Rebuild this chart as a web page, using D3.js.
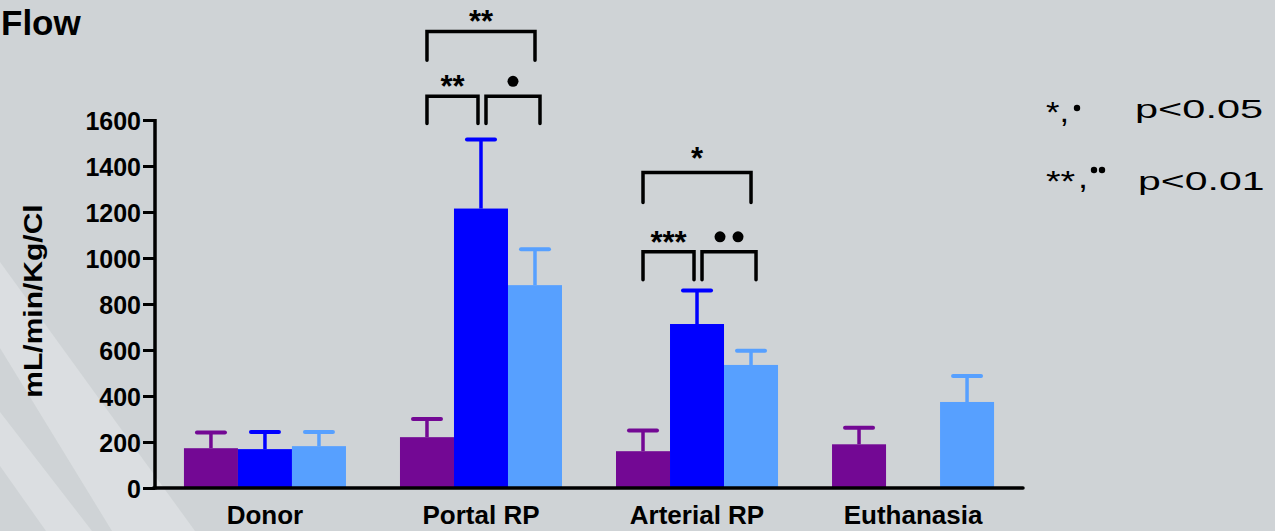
<!DOCTYPE html>
<html>
<head>
<meta charset="utf-8">
<script src="https://cdn.jsdelivr.net/npm/d3@7"></script>
<style>
  body { margin: 0; background: #cfd3d6; }
  svg { display: block; font-family: Arial, "Liberation Sans", sans-serif; }
</style>
</head>
<body>
<div id="chart"></div>
<script>
// chart values
var groups = ["Donor", "Portal RP", "Arterial RP", "Euthanasia"]
var seriesColors = ["#730894", "#0000ff", "#57a0ff"]
// mean per group, one array per series (null = no bar)
var seriesA = [173, 221, 160, 190]
var seriesB = [169, 1215, 713, null]
var seriesC = [182, 882, 535, 374]
// top of the error bar (mean + SEM)
var errA = [241, 300, 250, 262]
var errB = [244, 1515, 859, null]
var errC = [244, 1038, 597, 487]
var yTicks = [0, 200, 400, 600, 800, 1000, 1200, 1400, 1600]

// significance brackets: group, bar from/to, top and leg level (data units)
var brackets = [
    { group: "Portal RP", from: 0, to: 2, top: 1985, bottom: 1860, label: "**", dots: 0 },
    { group: "Portal RP", from: 0, to: 1, top: 1703, bottom: 1585, label: "**", dots: 0 },
    { group: "Portal RP", from: 1, to: 2, top: 1703, bottom: 1585, label: "", dots: 1 },
    { group: "Arterial RP", from: 0, to: 2, top: 1372, bottom: 1241, label: "*", dots: 0 },
    { group: "Arterial RP", from: 0, to: 1, top: 1027, bottom: 905, label: "***", dots: 0 },
    { group: "Arterial RP", from: 1, to: 2, top: 1027, bottom: 905, label: "", dots: 2 }
]

var svgWidth = 1275
var svgHeight = 531

var svg = d3.select("#chart")
    .append("svg")
    .attr("width", svgWidth)
    .attr("height", svgHeight)

svg.append("rect")
    .attr("width", svgWidth)
    .attr("height", svgHeight)
    .attr("fill", "#cfd3d6")

// light diagonal bands in the lower left corner
var bands = [
    [[0, 262], [195, 531], [112, 531], [0, 348]],
    [[0, 412], [92, 531], [46, 531], [0, 466]]
]
svg.append("g")
    .selectAll("path")
    .data(bands)
    .enter()
    .append("path")
    .attr("d", d => "M" + d.join("L") + "Z")
    .attr("fill", "#e3e6e7")
    .attr("opacity", 0.6)

var margin = { top: 120, bottom: 43, right: 252, left: 155 }
var chartWidth = svgWidth - margin.left - margin.right
var chartHeight = svgHeight - margin.top - margin.bottom

var chartGroup = svg.append("g")
    .attr("transform", `translate(${margin.left}, ${margin.top})`)

var xScale = d3.scaleBand()
    .domain(groups)
    .range([0, chartWidth])
    .paddingInner(0.25)
    .paddingOuter(0.134)

var xSub = d3.scaleBand()
    .domain([0, 1, 2])
    .range([0, xScale.bandwidth()])

var yScale = d3.scaleLinear()
    .domain([0, 1600])
    .range([chartHeight, 0])

var means = [seriesA, seriesB, seriesC]
var errs = [errA, errB, errC]
var barData = []
groups.forEach((g, i) => {
    means.forEach((s, k) => {
        if (s[i] != null) barData.push({ group: g, k: k, value: s[i], err: errs[k][i] })
    })
})

var barCenter = (g, k) => xScale(g) + xSub(k) + xSub.bandwidth() / 2

// error bars first, bars drawn on top
var errGroup = chartGroup.append("g")
errGroup.selectAll("line.stem")
    .data(barData)
    .enter()
    .append("line")
    .attr("x1", d => barCenter(d.group, d.k))
    .attr("x2", d => barCenter(d.group, d.k))
    .attr("y1", d => yScale(d.value))
    .attr("y2", d => yScale(d.err))
    .attr("stroke", d => seriesColors[d.k])
    .attr("stroke-width", 3.5)
errGroup.selectAll("line.cap")
    .data(barData)
    .enter()
    .append("line")
    .attr("x1", d => barCenter(d.group, d.k) - 14)
    .attr("x2", d => barCenter(d.group, d.k) + 14)
    .attr("y1", d => yScale(d.err))
    .attr("y2", d => yScale(d.err))
    .attr("stroke", d => seriesColors[d.k])
    .attr("stroke-width", 4)
    .attr("stroke-linecap", "round")

chartGroup.append("g")
    .selectAll("rect")
    .data(barData)
    .enter()
    .append("rect")
    .attr("x", d => xScale(d.group) + xSub(d.k))
    .attr("width", xSub.bandwidth())
    .attr("y", d => yScale(d.value))
    .attr("height", d => chartHeight - yScale(d.value))
    .attr("fill", d => seriesColors[d.k])

// axes
var yAxis = d3.axisLeft(yScale)
    .tickValues(yTicks)
    .tickFormat(d3.format("d"))
    .tickSize(12)
    .tickPadding(2)
var yAxisG = chartGroup.append("g").call(yAxis)
yAxisG.select(".domain").attr("stroke", "#000").attr("stroke-width", 3.5)
    .attr("d", `M0,${chartHeight + 1.5}V-1`)
yAxisG.selectAll(".tick line").attr("stroke", "#000").attr("stroke-width", 3)
yAxisG.selectAll(".tick text")
    .attr("fill", "#000")
    .attr("font-size", 25)
    .attr("font-weight", "bold")
    .attr("font-family", "Arial, 'Liberation Sans', sans-serif")
    .attr("dy", "0.36em")

chartGroup.append("line")
    .attr("x1", -1.5)
    .attr("x2", chartWidth)
    .attr("y1", chartHeight)
    .attr("y2", chartHeight)
    .attr("stroke", "#000")
    .attr("stroke-width", 3.5)
    .attr("stroke-linecap", "round")

chartGroup.append("g")
    .attr("text-anchor", "middle")
    .selectAll("text")
    .data(groups)
    .enter()
    .append("text")
    .attr("x", d => xScale(d) + xScale.bandwidth() / 2)
    .attr("y", chartHeight + 36)
    .attr("font-size", 26)
    .attr("font-weight", "bold")
    .text(d => d)

// y axis label (the original is stretched sideways)
svg.append("text")
    .attr("transform", "translate(42, 301) rotate(-90) scale(1.2, 1)")
    .attr("text-anchor", "middle")
    .attr("font-size", 25)
    .attr("font-weight", "bold")
    .text("mL/min/Kg/Cl")

// title
svg.append("text")
    .attr("x", 1)
    .attr("y", 35)
    .attr("font-size", 35)
    .attr("font-weight", "bold")
    .text("Flow")

// significance brackets
var bracketGroup = chartGroup.append("g")
brackets.forEach(b => {
    var x1 = barCenter(b.group, b.from)
    var x2 = barCenter(b.group, b.to)
    if (b.to - b.from === 1) {
        if (b.from === 0) x2 -= 3
        else { x1 += 5; x2 += 5 }
    }
    var yt = yScale(b.top)
    var yb = yScale(b.bottom)
    bracketGroup.append("path")
        .attr("d", `M${x1},${yb}V${yt}H${x2}V${yb}`)
        .attr("fill", "none")
        .attr("stroke", "#000")
        .attr("stroke-width", 3.5)
        .attr("stroke-linecap", "round")
    var cx = (x1 + x2) / 2
    if (b.label) {
        bracketGroup.append("text")
            .attr("x", cx)
            .attr("y", yt + (b.label.length === 1 ? -3 : 1))
            .attr("text-anchor", "middle")
            .attr("font-size", 31)
            .attr("font-weight", "bold")
            .text(b.label)
    }
    d3.range(b.dots).forEach(i => {
        bracketGroup.append("circle")
            .attr("cx", cx + (i - (b.dots - 1) / 2) * 18)
            .attr("cy", yt - 15)
            .attr("r", 5.5)
            .attr("fill", "#000")
    })
})

// p-value key (also stretched sideways in the original)
var key = svg.append("g").attr("fill", "#000")
key.append("text").attr("transform", "translate(1046, 122) scale(1.15, 1)")
    .attr("font-size", 30).text("*,")
key.append("circle").attr("cx", 1077).attr("cy", 108).attr("r", 3.2)
key.append("text").attr("transform", "translate(1135, 118) scale(1.66, 1)")
    .attr("font-size", 25).text("p<0.05")

key.append("text").attr("transform", "translate(1046, 191) scale(1.25, 1)")
    .attr("font-size", 30).text("**")
key.append("text").attr("transform", "translate(1078, 188) scale(1.2, 1)")
    .attr("font-size", 30).text(",")
key.append("circle").attr("cx", 1094).attr("cy", 170).attr("r", 3.2)
key.append("circle").attr("cx", 1102).attr("cy", 170).attr("r", 3.2)
key.append("text").attr("transform", "translate(1138, 190) scale(1.64, 1)")
    .attr("font-size", 25).text("p<0.01")
</script>
</body>
</html>
